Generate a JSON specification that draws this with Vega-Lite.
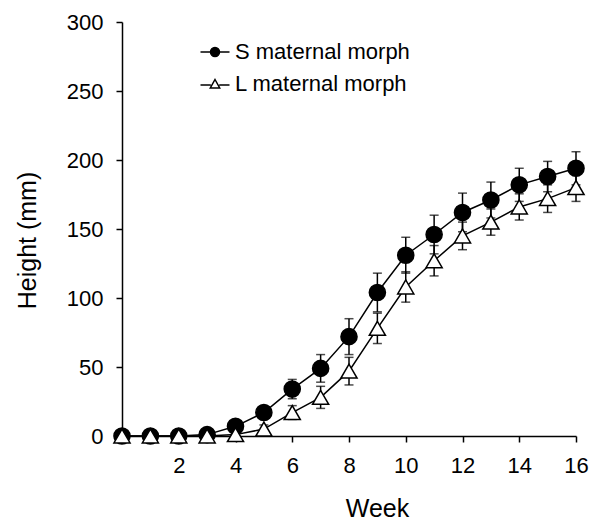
{
  "$schema": "https://vega.github.io/schema/vega-lite/v6.json",
  "width": 454,
  "height": 414,
  "autosize": {"type": "none"},
  "padding": {"left": 122, "top": 22, "right": 17, "bottom": 87},
  "background": "white",
  "config": {
    "view": {"stroke": null},
    "font": "Liberation Sans",
    "legend": {"symbolBaseStrokeColor": "black", "symbolStrokeWidth": 1.5},
    "axis": {
      "grid": false,
      "domainColor": "black",
      "domainWidth": 1.5,
      "tickColor": "black",
      "tickWidth": 1.5,
      "tickSize": 6,
      "labelPadding": 13,
      "labelColor": "black",
      "labelFont": "Liberation Sans",
      "labelFontSize": 22,
      "titleColor": "black",
      "titleFont": "Liberation Sans",
      "titleFontSize": 25,
      "titleFontWeight": "normal",
      "labelFlush": false,
      "labelOverlap": false
    }
  },
  "data": {
    "values": [
      {"week": 0, "series": "S maternal morph", "height": 0, "err": 1},
      {"week": 1, "series": "S maternal morph", "height": 0, "err": 1},
      {"week": 2, "series": "S maternal morph", "height": 0, "err": 1},
      {"week": 3, "series": "S maternal morph", "height": 1, "err": 2},
      {"week": 4, "series": "S maternal morph", "height": 7, "err": 3},
      {"week": 5, "series": "S maternal morph", "height": 17, "err": 4},
      {"week": 6, "series": "S maternal morph", "height": 34, "err": 7},
      {"week": 7, "series": "S maternal morph", "height": 49, "err": 10},
      {"week": 8, "series": "S maternal morph", "height": 72, "err": 13},
      {"week": 9, "series": "S maternal morph", "height": 104, "err": 14},
      {"week": 10, "series": "S maternal morph", "height": 131, "err": 13},
      {"week": 11, "series": "S maternal morph", "height": 146, "err": 14},
      {"week": 12, "series": "S maternal morph", "height": 162, "err": 14},
      {"week": 13, "series": "S maternal morph", "height": 171, "err": 13},
      {"week": 14, "series": "S maternal morph", "height": 182, "err": 12},
      {"week": 15, "series": "S maternal morph", "height": 188, "err": 11},
      {"week": 16, "series": "S maternal morph", "height": 194, "err": 12},
      {"week": 0, "series": "L maternal morph", "height": 0, "err": 1},
      {"week": 1, "series": "L maternal morph", "height": 0, "err": 1},
      {"week": 2, "series": "L maternal morph", "height": 0, "err": 1},
      {"week": 3, "series": "L maternal morph", "height": 0, "err": 1},
      {"week": 4, "series": "L maternal morph", "height": 1, "err": 2},
      {"week": 5, "series": "L maternal morph", "height": 5, "err": 3},
      {"week": 6, "series": "L maternal morph", "height": 17, "err": 5},
      {"week": 7, "series": "L maternal morph", "height": 28, "err": 8},
      {"week": 8, "series": "L maternal morph", "height": 47, "err": 10},
      {"week": 9, "series": "L maternal morph", "height": 78, "err": 11},
      {"week": 10, "series": "L maternal morph", "height": 108, "err": 11},
      {"week": 11, "series": "L maternal morph", "height": 127, "err": 11},
      {"week": 12, "series": "L maternal morph", "height": 145, "err": 10},
      {"week": 13, "series": "L maternal morph", "height": 155, "err": 9.5},
      {"week": 14, "series": "L maternal morph", "height": 166, "err": 9.5},
      {"week": 15, "series": "L maternal morph", "height": 172, "err": 10},
      {"week": 16, "series": "L maternal morph", "height": 180, "err": 10}
    ]
  },
  "encoding": {
    "x": {
      "field": "week",
      "type": "quantitative",
      "scale": {"domain": [0, 16], "nice": false, "zero": false},
      "axis": {
        "title": "Week",
        "values": [2, 4, 6, 8, 10, 12, 14, 16],
        "titleX": 255,
        "titleY": 60,
        "titleBaseline": "top"
      }
    },
    "y": {
      "field": "height",
      "type": "quantitative",
      "scale": {"domain": [0, 300], "nice": false},
      "axis": {
        "title": "Height (mm)",
        "values": [0, 50, 100, 150, 200, 250, 300],
        "titleX": -87,
        "titleY": 218,
        "titleBaseline": "alphabetic"
      }
    }
  },
  "resolve": {"scale": {"shape": "independent", "fill": "independent", "stroke": "independent"}},
  "layer": [
    {
      "mark": {
        "type": "errorbar",
        "color": "black",
        "ticks": {"size": 9, "thickness": 1.5, "color": "black"},
        "rule": {"strokeWidth": 1.5, "color": "black"}
      },
      "encoding": {
        "yError": {"field": "err"},
        "detail": {"field": "series"}
      }
    },
    {
      "mark": {"type": "line", "color": "black", "strokeWidth": 1.5},
      "encoding": {
        "detail": {"field": "series"}
      }
    },
    {
      "mark": {"type": "point", "size": 260, "stroke": "black", "strokeWidth": 1.5, "opacity": 1},
      "encoding": {
        "shape": {
          "field": "series",
          "type": "nominal",
          "scale": {"domain": ["S maternal morph", "L maternal morph"], "range": ["circle", "triangle-up"]},
          "legend": null
        },
        "fill": {
          "field": "series",
          "type": "nominal",
          "scale": {"domain": ["S maternal morph", "L maternal morph"], "range": ["black", "white"]},
          "legend": null
        }
      }
    },
    {
      "mark": {"type": "point", "filled": true, "size": 10, "strokeWidth": 1.5, "opacity": 0},
      "encoding": {
        "shape": {
          "field": "series",
          "type": "nominal",
          "scale": {
            "domain": ["S maternal morph", "L maternal morph"],
            "range": [
              "M-1.45,0H1.45M0.45,0A0.45,0.45,0,1,1,-0.45,0A0.45,0.45,0,1,1,0.45,0Z",
              "M-1.45,0.1H-0.42M0.42,0.1H1.45M0,-0.45L0.47,0.4L-0.47,0.4Z"
            ]
          },
          "legend": {
            "title": null,
            "orient": "none",
            "legendX": 82,
            "legendY": 19,
            "padding": 0,
            "symbolSize": 400,
            "labelFontSize": 22,
            "labelFont": "Liberation Sans",
            "labelColor": "black",
            "labelLimit": 0,
            "labelOffset": 9,
            "rowPadding": 10,
            "symbolOpacity": 1
          }
        },
        "fill": {
          "field": "series",
          "type": "nominal",
          "scale": {"domain": ["S maternal morph", "L maternal morph"], "range": ["black", "white"]},
          "legend": {
            "title": null,
            "orient": "none",
            "legendX": 82,
            "legendY": 19,
            "padding": 0,
            "symbolSize": 400,
            "labelFontSize": 22,
            "labelFont": "Liberation Sans",
            "labelColor": "black",
            "labelLimit": 0,
            "labelOffset": 9,
            "rowPadding": 10,
            "symbolOpacity": 1
          }
        },
        "stroke": {
          "field": "series",
          "type": "nominal",
          "scale": {"domain": ["S maternal morph", "L maternal morph"], "range": ["black", "black"]},
          "legend": {
            "title": null,
            "orient": "none",
            "legendX": 82,
            "legendY": 19,
            "padding": 0,
            "symbolSize": 400,
            "labelFontSize": 22,
            "labelFont": "Liberation Sans",
            "labelColor": "black",
            "labelLimit": 0,
            "labelOffset": 9,
            "rowPadding": 10,
            "symbolOpacity": 1
          }
        }
      }
    }
  ]
}
